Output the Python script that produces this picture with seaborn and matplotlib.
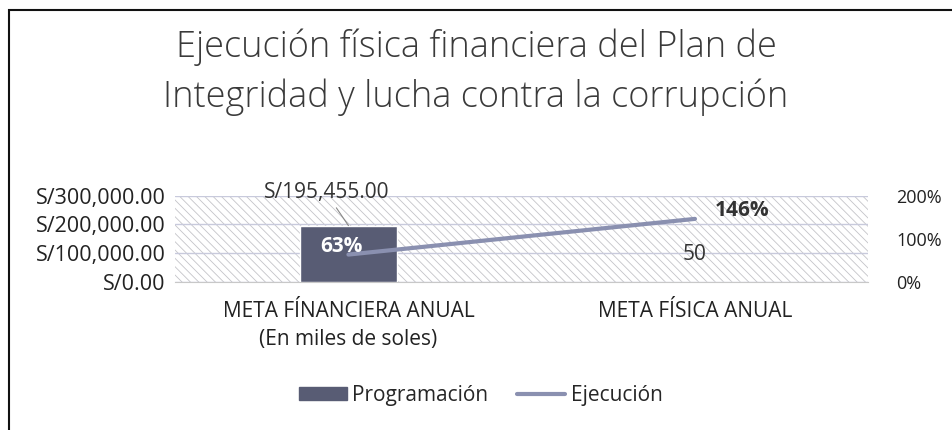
import matplotlib
matplotlib.use("Agg")
import matplotlib.pyplot as plt
import seaborn as sns
import pandas as pd
from matplotlib.patches import Rectangle, Patch
from matplotlib.lines import Line2D
from matplotlib.ticker import FuncFormatter, FixedLocator

# datos del grafico
categorias = ["META FÍNANCIERA ANUAL\n(En miles de soles)", "META FÍSICA ANUAL"]
programacion = [195455.00, 50]
ejecucion = [0.63, 1.46]
etiquetas_prog = ["S/195,455.00", "50"]
etiquetas_ejec = ["63%", "146%"]

df = pd.DataFrame({"categoria": categorias, "programacion": programacion, "ejecucion": ejecucion})

sns.set_style("white")
plt.rcParams["font.family"] = ["Open Sans", "DejaVu Sans"]
plt.rcParams["hatch.linewidth"] = 0.6
plt.rcParams["hatch.color"] = "#c4c4c8"

fig = plt.figure(figsize=(9.52, 4.30), dpi=100)
ax = fig.add_axes([0.184, 0.345, 0.728, 0.200])

# fondo rayado del area de trazado
ax.add_patch(Rectangle((0, 0), 1, 1, transform=ax.transAxes, facecolor="white",
                       edgecolor="#c4c4c8", hatch="\\\\\\\\", lw=0, zorder=0))

sns.barplot(data=df, x="categoria", y="programacion", ax=ax, color="#585c74",
            width=0.28, saturation=1, zorder=3)
ax.set_ylim(0, 300000)
ax.set_xlim(-0.5, 1.5)
ax.yaxis.set_major_locator(FixedLocator([0, 100000, 200000, 300000]))
ax.yaxis.set_major_formatter(FuncFormatter(lambda v, p: "S/{:,.2f}".format(v)))
ax.grid(axis="y", color="#c8cadc", lw=1, zorder=1)
ax.set_axisbelow(True)
ax.set_xlabel("")
ax.set_ylabel("")
for s in ["top", "right", "left"]:
    ax.spines[s].set_visible(False)
ax.spines["bottom"].set_color("#c8c8c8")
ax.tick_params(axis="y", length=0, labelsize=15.5, pad=7, colors="#222222")
ax.tick_params(axis="x", length=0, labelsize=15, pad=14, colors="#222222")
for lbl in ax.get_xticklabels():
    lbl.set_linespacing(1.45)
ax.set_xticks([-0.5, 0.5, 1.5], minor=True)
ax.tick_params(axis="x", which="minor", length=5, color="#c8c8c8")

# eje secundario con la ejecucion
ax2 = ax.twinx()
sns.lineplot(data=df, x="categoria", y="ejecucion", ax=ax2, color="#8a90b0", lw=3, zorder=4)
ax2.set_ylim(0, 2)
ax2.yaxis.set_major_locator(FixedLocator([0, 1, 2]))
ax2.yaxis.set_major_formatter(FuncFormatter(lambda v, p: "{:.0%}".format(v)))
ax2.set_ylabel("")
for s in ax2.spines.values():
    s.set_visible(False)
ax2.tick_params(axis="y", length=0, labelsize=13, pad=20, colors="#222222")

# etiquetas de datos
ax.annotate(etiquetas_prog[0], xy=(0, programacion[0]), xytext=(-16, 16),
            textcoords="offset points", ha="center", va="bottom", fontsize=15, color="#333333",
            arrowprops=dict(arrowstyle="-", color="#888888", lw=0.8, shrinkA=1, shrinkB=0))
ax.annotate(etiquetas_prog[1], xy=(1, programacion[1]), xytext=(0, 12),
            textcoords="offset points", ha="center", va="bottom", fontsize=15, color="#333333")
ax2.annotate(etiquetas_ejec[0], xy=(0, ejecucion[0]), xytext=(-5, 6),
             textcoords="offset points", ha="center", va="center", fontsize=15,
             fontweight="bold", color="white", zorder=6)
ax2.annotate(etiquetas_ejec[1], xy=(1, ejecucion[1]), xytext=(34, 6),
             textcoords="offset points", ha="center", va="center", fontsize=15,
             fontweight="bold", color="#333333")

fig.text(0.5, 0.89, "Ejecución física financiera del Plan de", ha="center", va="center",
         fontsize=26, fontweight="light", color="#3a3a3a")
fig.text(0.5, 0.773, "Integridad y lucha contra la corrupción", ha="center", va="center",
         fontsize=26, fontweight="light", color="#3a3a3a")

# leyenda
handles = [Patch(facecolor="#585c74", edgecolor="#585c74", label="Programación"),
           Line2D([0], [0], color="#8a90b0", lw=3, label="Ejecución")]
fig.legend(handles=handles, loc="center", bbox_to_anchor=(0.505, 0.08), ncol=2, frameon=False,
           fontsize=15, handlelength=2.3, handleheight=0.55, columnspacing=1.4, handletextpad=0.25)

# marco del grafico
fig.add_artist(Rectangle((0.009, -0.01), 0.995, 0.987, transform=fig.transFigure,
                         fill=False, edgecolor="#111111", lw=1.5))

fig.savefig("out.png", dpi=100)
